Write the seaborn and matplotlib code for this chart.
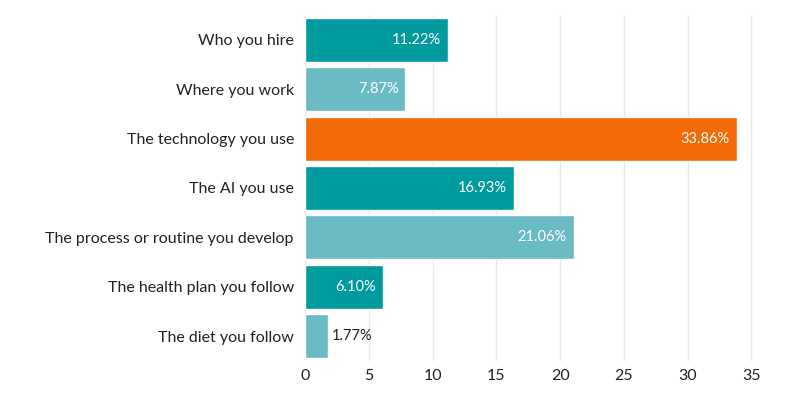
import matplotlib
matplotlib.use("Agg")
import matplotlib.pyplot as plt
import seaborn as sns
import pandas as pd

categories = ["Who you hire", "Where you work", "The technology you use", "The AI you use",
              "The process or routine you develop", "The health plan you follow", "The diet you follow"]
values = [11.22, 7.87, 33.86, 16.39, 21.06, 6.10, 1.77]
value_labels = ["11.22%", "7.87%", "33.86%", "16.93%", "21.06%", "6.10%", "1.77%"]
colors = ["#009B9E", "#6BBBC5", "#F46A06", "#009B9E", "#6BBBC5", "#009B9E", "#6BBBC5"]
xticks = [0, 5, 10, 15, 20, 25, 30, 35]

sns.set_theme(style="white")
plt.rcParams['font.family'] = ['Lato', 'DejaVu Sans']

df = pd.DataFrame({"cat": categories, "val": values})

fig = plt.figure(figsize=(8, 4), dpi=100)
ax = fig.add_axes([305/800, 1 - 360.7/400, (777-305)/800, (360.7-15.3)/400])
sns.barplot(data=df, y="cat", x="val", hue="cat", palette=colors, legend=False,
            orient="h", width=0.89, ax=ax, zorder=3, saturation=1)

ax.set_xlim(0, 37)
ax.set_xticks(xticks)
ax.set_xlabel("")
ax.set_ylabel("")
for s in ax.spines.values():
    s.set_visible(False)
ax.grid(axis="x", color="#e9e9e9", linewidth=1, zorder=0)
ax.tick_params(axis="both", length=0, labelsize=11.5, colors="#222222")
ax.tick_params(axis="y", pad=8)
ax.tick_params(axis="x", pad=6)

for i, (v, lab) in enumerate(zip(values, value_labels)):
    if v > 5:
        ax.text(v - 0.55, i, lab, ha="right", va="center", color="white", fontsize=10.5, zorder=4)
    else:
        ax.text(v + 0.35, i, lab, ha="left", va="center", color="#222222", fontsize=10.5, zorder=4)

fig.savefig("out.png", dpi=100)
